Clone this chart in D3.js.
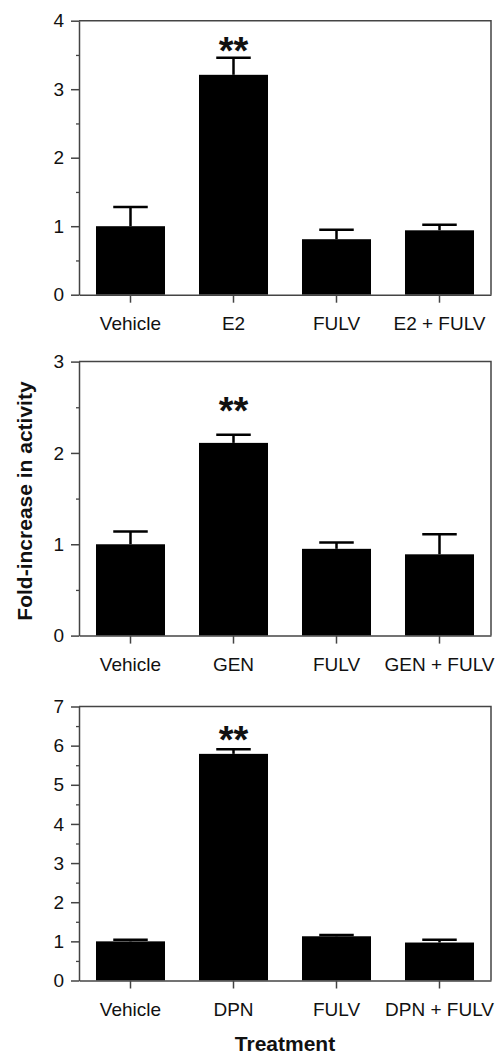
<!DOCTYPE html>
<html>
<head>
<meta charset="utf-8">
<script src="https://cdn.jsdelivr.net/npm/d3@7"></script>
<style>
  body { margin: 0; background: #fff; }
  text { font-family: "Liberation Sans", Arial, sans-serif; fill: #111; }
</style>
</head>
<body>
<div id="chart"></div>
<script>
// panel data
var labels1 = ['Vehicle', 'E2', 'FULV', 'E2 + FULV']
var means1 = [1.0, 3.21, 0.81, 0.94]
var errs1 = [0.28, 0.25, 0.14, 0.08]
var yMax1 = 4

var labels2 = ['Vehicle', 'GEN', 'FULV', 'GEN + FULV']
var means2 = [1.0, 2.11, 0.95, 0.89]
var errs2 = [0.14, 0.09, 0.07, 0.22]
var yMax2 = 3

var labels3 = ['Vehicle', 'DPN', 'FULV', 'DPN + FULV']
var means3 = [1.0, 5.79, 1.13, 0.97]
var errs3 = [0.04, 0.12, 0.03, 0.07]
var yMax3 = 7

// "**" marks: which bar, and at what y value the mark sits
var starBar = [1, 1, 1]
var starAt = [3.6, 2.49, 6.22]

var W = 497, H = 1055
var left = 79, right = 491
var panelTops = [20.7, 361.6, 706.5]
var panelH = 274

var svg = d3.select('#chart').append('svg')
  .attr('width', W)
  .attr('height', H)

var panels = [
  { labels: labels1, means: means1, errs: errs1, yMax: yMax1 },
  { labels: labels2, means: means2, errs: errs2, yMax: yMax2 },
  { labels: labels3, means: means3, errs: errs3, yMax: yMax3 }
]

panels.forEach(function(p, i) {
  var top = panelTops[i]
  var g = svg.append('g').attr('transform', 'translate(0,' + top + ')')

  var x = d3.scaleBand()
    .domain(p.labels)
    .range([left, right])
    .paddingInner(0.33)
    .paddingOuter(0.165)

  var y = d3.scaleLinear()
    .domain([0, p.yMax])
    .range([panelH, 0])

  var rows = p.labels.map(function(l, j) { return { label: l, mean: p.means[j], err: p.errs[j] } })

  // frame (top + right)
  g.append('path')
    .attr('d', 'M' + left + ',0H' + right + 'V' + panelH)
    .attr('fill', 'none')
    .attr('stroke', '#444')
    .attr('stroke-width', 1.5)

  // error bars (upper only)
  var eb = g.selectAll('g.err').data(rows).enter().append('g').attr('class', 'err')
  eb.append('line')
    .attr('x1', d => x(d.label) + x.bandwidth() / 2)
    .attr('x2', d => x(d.label) + x.bandwidth() / 2)
    .attr('y1', d => y(d.mean))
    .attr('y2', d => y(d.mean + d.err))
    .attr('stroke', '#000')
    .attr('stroke-width', 2.5)
  eb.append('line')
    .attr('x1', d => x(d.label) + x.bandwidth() / 4)
    .attr('x2', d => x(d.label) + x.bandwidth() * 3 / 4)
    .attr('y1', d => y(d.mean + d.err))
    .attr('y2', d => y(d.mean + d.err))
    .attr('stroke', '#000')
    .attr('stroke-width', 2.5)

  // bars
  g.selectAll('rect.bar').data(rows).enter().append('rect')
    .attr('class', 'bar')
    .attr('x', d => x(d.label))
    .attr('width', x.bandwidth())
    .attr('y', d => y(d.mean))
    .attr('height', d => panelH - y(d.mean))
    .attr('fill', '#000')

  // y axis: major + minor ticks
  var yMinor = d3.axisLeft(y)
    .tickValues(d3.range(0.5, p.yMax, 1))
    .tickSize(3)
    .tickFormat('')
  g.append('g')
    .attr('transform', 'translate(' + left + ',0)')
    .call(yMinor)
    .call(a => a.select('.domain').remove())
    .selectAll('line').attr('stroke', '#444').attr('stroke-width', 1.3)

  var yAxis = d3.axisLeft(y)
    .tickValues(d3.range(0, p.yMax + 1, 1))
    .tickFormat(d3.format('d'))
    .tickSize(8)
    .tickSizeOuter(0)
    .tickPadding(7)
  var ya = g.append('g')
    .attr('transform', 'translate(' + left + ',0)')
    .call(yAxis)
  ya.select('.domain').attr('stroke', '#444').attr('stroke-width', 1.5)
  ya.selectAll('line').attr('stroke', '#444').attr('stroke-width', 1.5)
  ya.selectAll('text').style('font-size', '19px').style('font-family', '"Liberation Sans", Arial, sans-serif').attr('fill', '#222')

  // x axis
  var xAxis = d3.axisBottom(x)
    .tickSize(8)
    .tickSizeOuter(0)
    .tickPadding(14)
  var xa = g.append('g')
    .attr('transform', 'translate(0,' + panelH + ')')
    .call(xAxis)
  xa.select('.domain').attr('stroke', '#444').attr('stroke-width', 1.5)
  xa.selectAll('line').attr('stroke', '#444').attr('stroke-width', 1.5)
  xa.selectAll('text').style('font-size', '19px').style('font-family', '"Liberation Sans", Arial, sans-serif').attr('fill', '#222')

  // significance mark
  g.append('text')
    .attr('x', x(p.labels[starBar[i]]) + x.bandwidth() / 2)
    .attr('y', y(starAt[i]) + 16)
    .attr('text-anchor', 'middle')
    .style('font-size', '38px')
    .style('font-weight', 'bold')
    .text('**')
})

// axis titles
svg.append('text')
  .attr('transform', 'translate(32,' + 501 + ') rotate(-90)')
  .attr('text-anchor', 'middle')
  .style('font-size', '21px')
  .style('font-weight', 'bold')
  .text('Fold-increase in activity')

svg.append('text')
  .attr('x', (left + right) / 2)
  .attr('y', 1051)
  .attr('text-anchor', 'middle')
  .style('font-size', '21px')
  .style('font-weight', 'bold')
  .text('Treatment')
</script>
</body>
</html>
